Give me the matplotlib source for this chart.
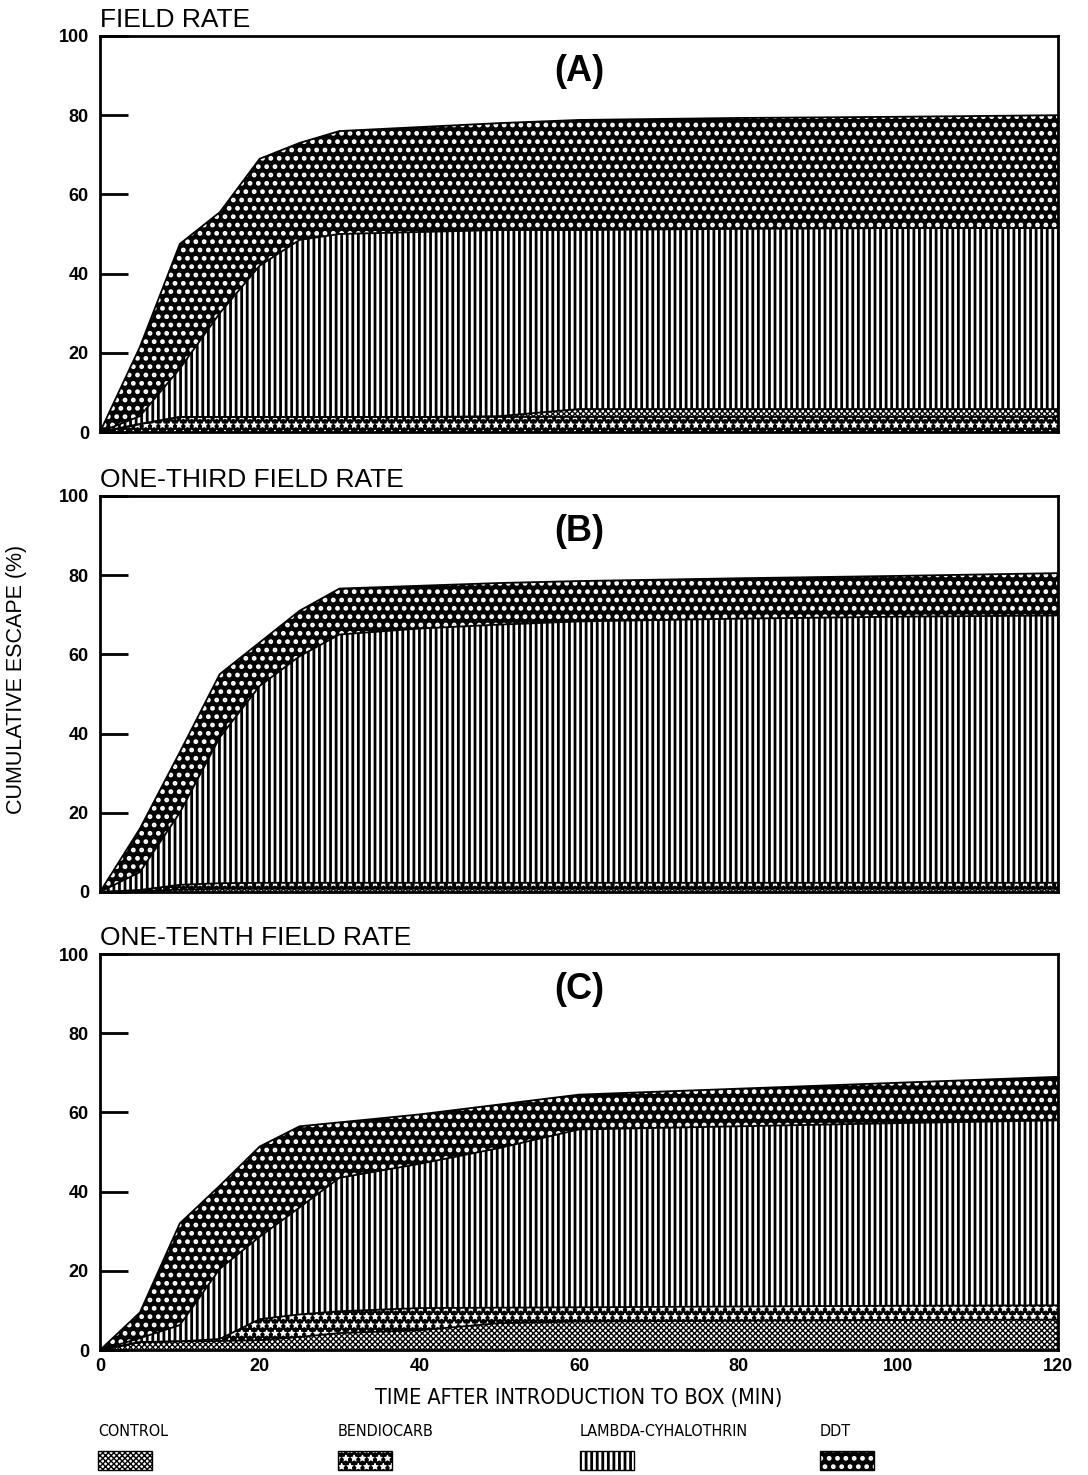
import matplotlib
matplotlib.use("Agg")
import matplotlib.pyplot as plt
from matplotlib.patches import Rectangle

plt.rcParams['font.family'] = ['Liberation Sans', 'DejaVu Sans']

# time after introduction to box (min)
t = [0, 5, 10, 15, 20, 25, 30, 40, 50, 60, 80, 100, 120]

# upper edge of each band (cumulative %)
# (A) field rate - bendiocarb band sits at the bottom here
a_bend = [0, 2, 3.8, 3.8, 3.8, 3.8, 3.8, 3.8, 3.8, 3.8, 3.8, 3.8, 3.8]
a_ctrl = [0, 2, 3.8, 3.8, 3.8, 3.8, 3.8, 3.8, 4.0, 5.8, 5.8, 5.8, 5.8]
a_lamb = [0, 4, 16, 30, 42, 48.5, 50, 50.5, 51, 51, 51.3, 51.5, 51.5]
a_ddt = [0, 21.5, 47.5, 55.5, 69, 73, 76, 77, 78, 78.8, 79.3, 79.6, 80]

# (B) one-third field rate
b_ctrl = [0, 0.2, 0.6, 0.8, 0.8, 0.8, 0.8, 0.8, 0.8, 0.8, 0.8, 0.8, 0.8]
b_bend = [0, 0.5, 1.8, 2.2, 2.3, 2.3, 2.3, 2.3, 2.3, 2.3, 2.3, 2.3, 2.3]
b_lamb = [0, 5, 20, 39, 52, 59.5, 65, 66.5, 67.5, 68.3, 69, 69.5, 69.8]
b_ddt = [0, 16, 35.3, 55, 63, 71, 76.6, 77.3, 78, 78.5, 79.2, 79.8, 80.5]

# (C) one-tenth field rate
c_ctrl = [0, 2, 2.2, 2.3, 2.5, 3.3, 4.3, 5, 6.8, 7.2, 7.4, 7.6, 7.7]
c_bend = [0, 2, 2.2, 2.8, 7.8, 9, 9.8, 10.6, 10.7, 10.8, 11, 11.2, 11.3]
c_lamb = [0, 3, 6.3, 20.5, 28.6, 36, 43.5, 47, 51, 55.7, 56.5, 57.3, 58]
c_ddt = [0, 9.5, 32, 41.5, 51.4, 56.5, 57.5, 59.5, 62, 64.5, 66, 67.5, 69]

titles = ["FIELD RATE", "ONE-THIRD FIELD RATE", "ONE-TENTH FIELD RATE"]
letters = ["(A)", "(B)", "(C)"]
treatments = ["CONTROL", "BENDIOCARB", "LAMBDA-CYHALOTHRIN", "DDT"]

# fill style per treatment: face, hatch, hatch colour, hatch width
styles = {
    "CONTROL": ("white", "xxxxxx", "black", 1.0),
    "BENDIOCARB": ("black", "**", "white", 0.8),
    "LAMBDA-CYHALOTHRIN": ("white", "|||", "black", 2.0),
    "DDT": ("black", "..", "white", 2.2),
}

panels = [
    [("BENDIOCARB", a_bend), ("CONTROL", a_ctrl), ("LAMBDA-CYHALOTHRIN", a_lamb), ("DDT", a_ddt)],
    [("CONTROL", b_ctrl), ("BENDIOCARB", b_bend), ("LAMBDA-CYHALOTHRIN", b_lamb), ("DDT", b_ddt)],
    [("CONTROL", c_ctrl), ("BENDIOCARB", c_bend), ("LAMBDA-CYHALOTHRIN", c_lamb), ("DDT", c_ddt)],
]

narrow = dict(family='DejaVu Sans', stretch='condensed')


def band(ax, lo, hi, name):
    face, hatch, hcol, hlw = styles[name]
    with plt.rc_context({'hatch.linewidth': hlw}):
        p = ax.fill_between(t, lo, hi, facecolor=face, edgecolor=hcol,
                            hatch=hatch, linewidth=0)
        if hasattr(p, "set_hatch_linewidth"):
            p.set_hatch_linewidth(hlw)
    return p


fig = plt.figure(figsize=(10.88, 14.75), dpi=100)
bottoms = [0.7071, 0.3953, 0.0847]
height = 0.2685

for i in range(3):
    ax = fig.add_axes([0.0919, bottoms[i], 0.8805, height])
    lower = [0] * len(t)
    for name, upper in panels[i]:
        band(ax, lower, upper, name)
        ax.plot(t, upper, color="black", lw=1.3)
        lower = upper

    ax.set_xlim(0, 120)
    ax.set_ylim(0, 100)
    ax.set_yticks([0, 20, 40, 60, 80, 100])
    ax.set_xticks(range(0, 121, 20))
    ax.tick_params(axis='y', direction='in', length=20, width=2, pad=8, labelsize=13)
    ax.tick_params(axis='x', length=0, pad=6, labelsize=13, labelbottom=(i == 2))
    for lab in ax.get_xticklabels() + ax.get_yticklabels():
        lab.set_fontweight('bold')
    for s in ax.spines.values():
        s.set_linewidth(2)

    ax.text(0, 1.023, titles[i], transform=ax.transAxes, ha='left', va='baseline', fontsize=19)
    ax.text(0.5, 0.91, letters[i], transform=ax.transAxes, ha='center', va='center',
            fontsize=26, fontweight='bold')

    if i == 2:
        ax.set_xlabel("TIME AFTER INTRODUCTION TO BOX (MIN)", fontsize=15.5, labelpad=9, **narrow)

fig.text(0.0155, 0.5397, "CUMULATIVE ESCAPE (%)", rotation=90, ha='center', va='center', fontsize=15.5)

# key along the bottom: label above a small swatch
key_x = [98, 338, 580, 820]
for x, name in zip(key_x, treatments):
    face, hatch, hcol, hlw = styles[name]
    fig.text(x / 1088, 1 - 1432 / 1475, name, ha='left', va='center', fontsize=11.5, **narrow)
    with plt.rc_context({'hatch.linewidth': hlw}):
        r = Rectangle((x / 1088, 1 - 1470 / 1475), 54 / 1088, 19 / 1475, transform=fig.transFigure,
                      facecolor=face, edgecolor=hcol, hatch=hatch, linewidth=0)
        if hasattr(r, "set_hatch_linewidth"):
            r.set_hatch_linewidth(hlw)
    fig.add_artist(r)
    fig.add_artist(Rectangle((x / 1088, 1 - 1470 / 1475), 54 / 1088, 19 / 1475, transform=fig.transFigure,
                             fill=False, edgecolor="black", linewidth=1))

fig.savefig("out.png", dpi=100)
